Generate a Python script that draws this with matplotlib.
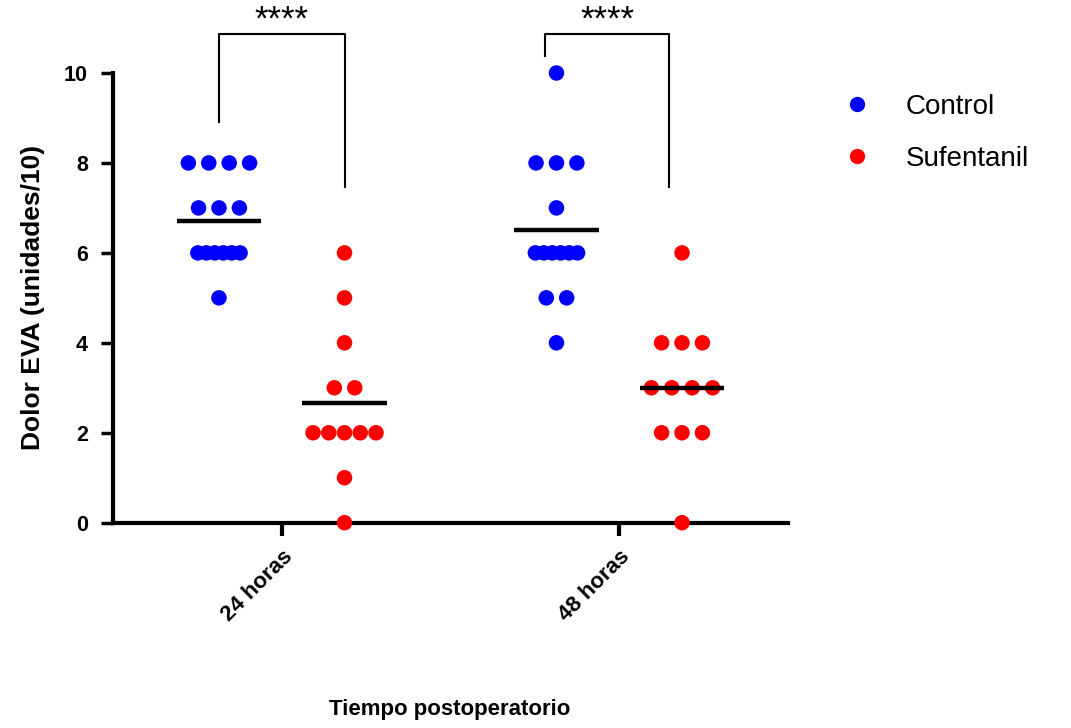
import numpy as np
import matplotlib
matplotlib.use("Agg")
import matplotlib.pyplot as plt
from matplotlib.lines import Line2D

plt.rcParams['font.family'] = ['Liberation Sans', 'DejaVu Sans']

# ---- data ----
timepoints = ["24 horas", "48 horas"]
series = ["Control", "Sufentanil"]
colors = {"Control": "#0000FF", "Sufentanil": "#FF0000"}

control_24 = [8, 8, 8, 8, 7, 7, 7, 6, 6, 6, 6, 6, 6, 5]
sufent_24 = [6, 5, 4, 3, 3, 2, 2, 2, 2, 2, 1, 0]
control_48 = [10, 8, 8, 8, 7, 6, 6, 6, 6, 6, 6, 5, 5, 4]
sufent_48 = [6, 4, 4, 4, 3, 3, 3, 3, 2, 2, 2, 0]

data = {
    ("24 horas", "Control"): control_24,
    ("24 horas", "Sufentanil"): sufent_24,
    ("48 horas", "Control"): control_48,
    ("48 horas", "Sufentanil"): sufent_48,
}

y_ticks = [0, 2, 4, 6, 8, 10]
significance = ["****", "****"]

# bracket geometry (relative to group center, data units)
bracket_left = [-0.186, -0.22]
bracket_right = [0.186, 0.148]
bracket_left_bottom = [8.91, 10.37]
bracket_right_bottom = [7.47, 7.47]
bracket_top = 10.86

# ---- figure ----
fig = plt.figure(figsize=(10.71, 7.28), dpi=100)
ax = fig.add_axes([113 / 1071, 1 - 522.7 / 728, (788 - 113) / 1071, (522.7 - 73) / 728])

offset = {"Control": -0.186, "Sufentanil": 0.186}


def row_spacing(n):
    if n <= 4:
        return 0.0605
    if n == 5:
        return 0.0466
    return 0.025


for gi, tp in enumerate(timepoints):
    for s in series:
        vals = np.array(data[(tp, s)])
        center = gi + offset[s]
        xs = np.zeros(len(vals))
        for v in np.unique(vals):
            idx = np.where(vals == v)[0]
            n = len(idx)
            sp = row_spacing(n)
            xs[idx] = center + (np.arange(n) - (n - 1) / 2) * sp
        ax.scatter(xs, vals, s=125, color=colors[s], edgecolors='none',
                   zorder=3, clip_on=False)
        m = vals.mean()
        ax.plot([center - 0.125, center + 0.125], [m, m], color='black',
                lw=3.2, solid_capstyle='butt', zorder=4, clip_on=False)

# significance brackets
for gi in range(len(timepoints)):
    xl = gi + bracket_left[gi]
    xr = gi + bracket_right[gi]
    ax.plot([xl, xl, xr, xr],
            [bracket_left_bottom[gi], bracket_top, bracket_top, bracket_right_bottom[gi]],
            color='black', lw=1.5, clip_on=False, zorder=2)
    ax.text((xl + xr) / 2, 11.17, significance[gi], ha='center',
            va='center', fontsize=25, color='black', clip_on=False)

ax.set_xlim(-0.5, 1.5)
ax.set_ylim(0, 10)
ax.set_yticks(y_ticks)
ax.set_yticklabels([str(t) for t in y_ticks], fontsize=15.5, fontweight='bold')
ax.set_xticks(range(len(timepoints)))
ax.set_xticklabels(timepoints, rotation=45, ha='right', rotation_mode='anchor',
                   fontsize=16, fontweight='bold')

for side in ['top', 'right']:
    ax.spines[side].set_visible(False)
for side in ['left', 'bottom']:
    ax.spines[side].set_linewidth(3)
ax.tick_params(axis='y', length=9, width=2.5, pad=9)
ax.tick_params(axis='x', length=9, width=3, pad=8)

ax.set_ylabel("Dolor EVA (unidades/10)", fontsize=19, fontweight='bold', labelpad=14)
fig.text(450 / 1071, 1 - 710 / 728, "Tiempo postoperatorio", ha='center', va='center',
         fontsize=16, fontweight='bold')

handles = [Line2D([], [], marker='o', linestyle='none', markersize=11,
                  markerfacecolor=colors[s], markeredgecolor='none') for s in series]
fig.legend(handles, series, loc='upper left', bbox_to_anchor=(829 / 1071, 1 - 83 / 728),
           frameon=False, fontsize=20, handlelength=1.2, handletextpad=1.15,
           labelspacing=0.93, borderaxespad=0)

fig.savefig("out.png", dpi=100)
